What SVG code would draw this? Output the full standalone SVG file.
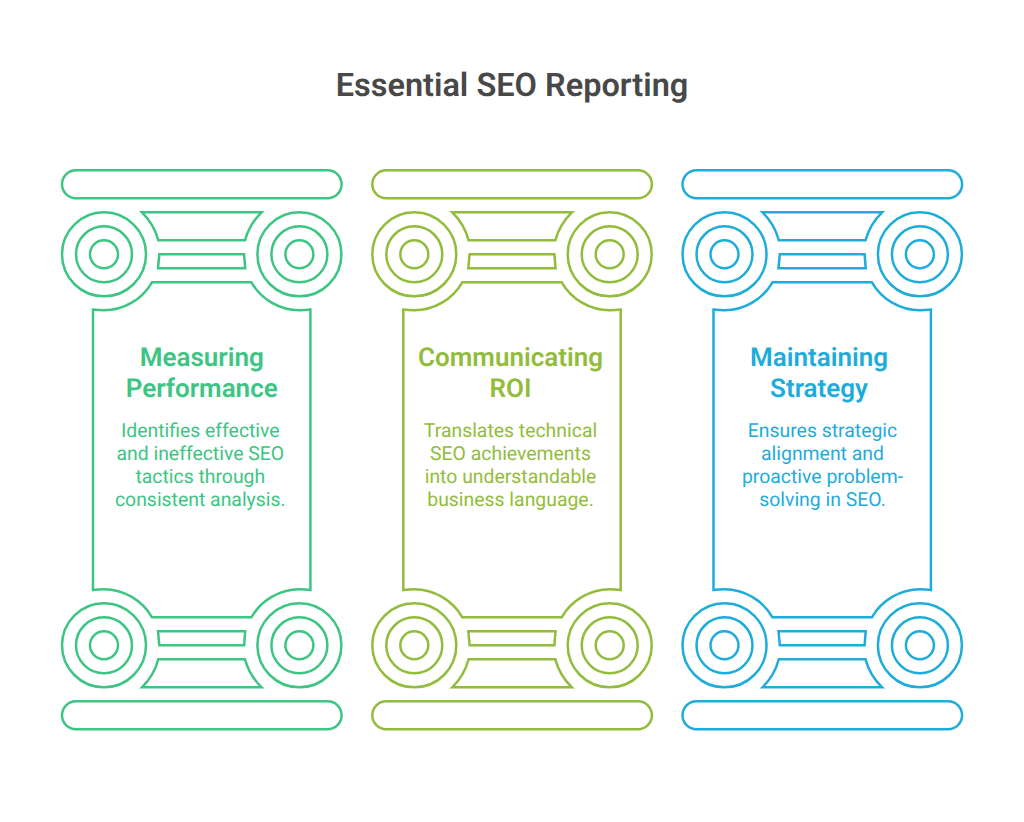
<svg xmlns="http://www.w3.org/2000/svg" width="1024" height="822" viewBox="0 0 1024 822">
<style>
text{font-family:Roboto,"Liberation Sans",sans-serif;text-anchor:middle;text-rendering:geometricPrecision}
.t{font-size:32.500px;font-weight:600;fill:#484848}
.h{font-size:26px;font-weight:600}
.b{font-size:19.400px;font-weight:400}
.s{fill:none;stroke-width:2.5;stroke-linejoin:miter}
.g{fill:#3cc583}.g .s{stroke:#3cc583}
.o{fill:#92bc3b}.o .s{stroke:#92bc3b}
.l{fill:#1eacdb}.l .s{stroke:#1eacdb}
</style>
<defs>
<g id="cap">
<rect x="62" y="170.3" width="279.6" height="28" rx="14"/>
<circle cx="104" cy="254.3" r="42"/><circle cx="104" cy="254.3" r="28"/><circle cx="104" cy="254.3" r="14"/>
<circle cx="299.4" cy="254.3" r="42"/><circle cx="299.4" cy="254.3" r="28"/><circle cx="299.4" cy="254.3" r="14"/>
<path d="M142 212.3H261.6Q249.500 224 245 240.300H158.300Q154 224 142 212.3Z"/>
<path d="M159.3 254.3H244.100L245.200 268.300H158Z"/>
</g>
<g id="column">
<use href="#cap"/>
<use href="#cap" transform="matrix(1 0 0 -1 0 899.6)"/>
<path d="M152 282.3H251.4A56 56 0 0 0 299.4 310.3Q305 310.3 310.4 309.6V590Q305 589.3 299.4 589.3A56 56 0 0 0 251.4 617.3H152A56 56 0 0 0 104 589.3Q98.5 589.3 93 590V309.6Q98.5 310.3 104 310.3A56 56 0 0 0 152 282.3Z"/>
</g>
</defs>
<rect width="1024" height="822" fill="#fff"/>
<text class="t" x="512" y="96">Essential SEO Reporting</text>
<g id="node-measuring" class="g">
<use class="s" href="#column"/>
<text class="h" x="201.700" y="366">Measuring</text>
<text class="h" x="201.700" y="397">Performance</text>
<text class="b" x="200.300" y="436.600">Identifies effective</text>
<text class="b" x="200.300" y="459.900">and ineffective SEO</text>
<text class="b" x="200.300" y="483.100">tactics through</text>
<text class="b" x="200.300" y="506.400">consistent analysis.</text>
</g>
<g id="node-communicating" class="o">
<use class="s" href="#column" x="310.300"/>
<text class="h" x="510.500" y="366">Communicating</text>
<text class="h" x="510.500" y="397">ROI</text>
<text class="b" x="510.500" y="436.600">Translates technical</text>
<text class="b" x="510.500" y="459.900">SEO achievements</text>
<text class="b" x="510.500" y="483.100">into understandable</text>
<text class="b" x="510.500" y="506.400">business language.</text>
</g>
<g id="node-maintaining" class="l">
<use class="s" href="#column" x="620.500"/>
<text class="h" x="819" y="366">Maintaining</text>
<text class="h" x="819" y="397">Strategy</text>
<text class="b" x="822.500" y="436.600">Ensures strategic</text>
<text class="b" x="822.500" y="459.900">alignment and</text>
<text class="b" x="822.500" y="483.100">proactive problem-</text>
<text class="b" x="822.500" y="506.400">solving in SEO.</text>
</g>
<g id="connectors"/>
</svg>
